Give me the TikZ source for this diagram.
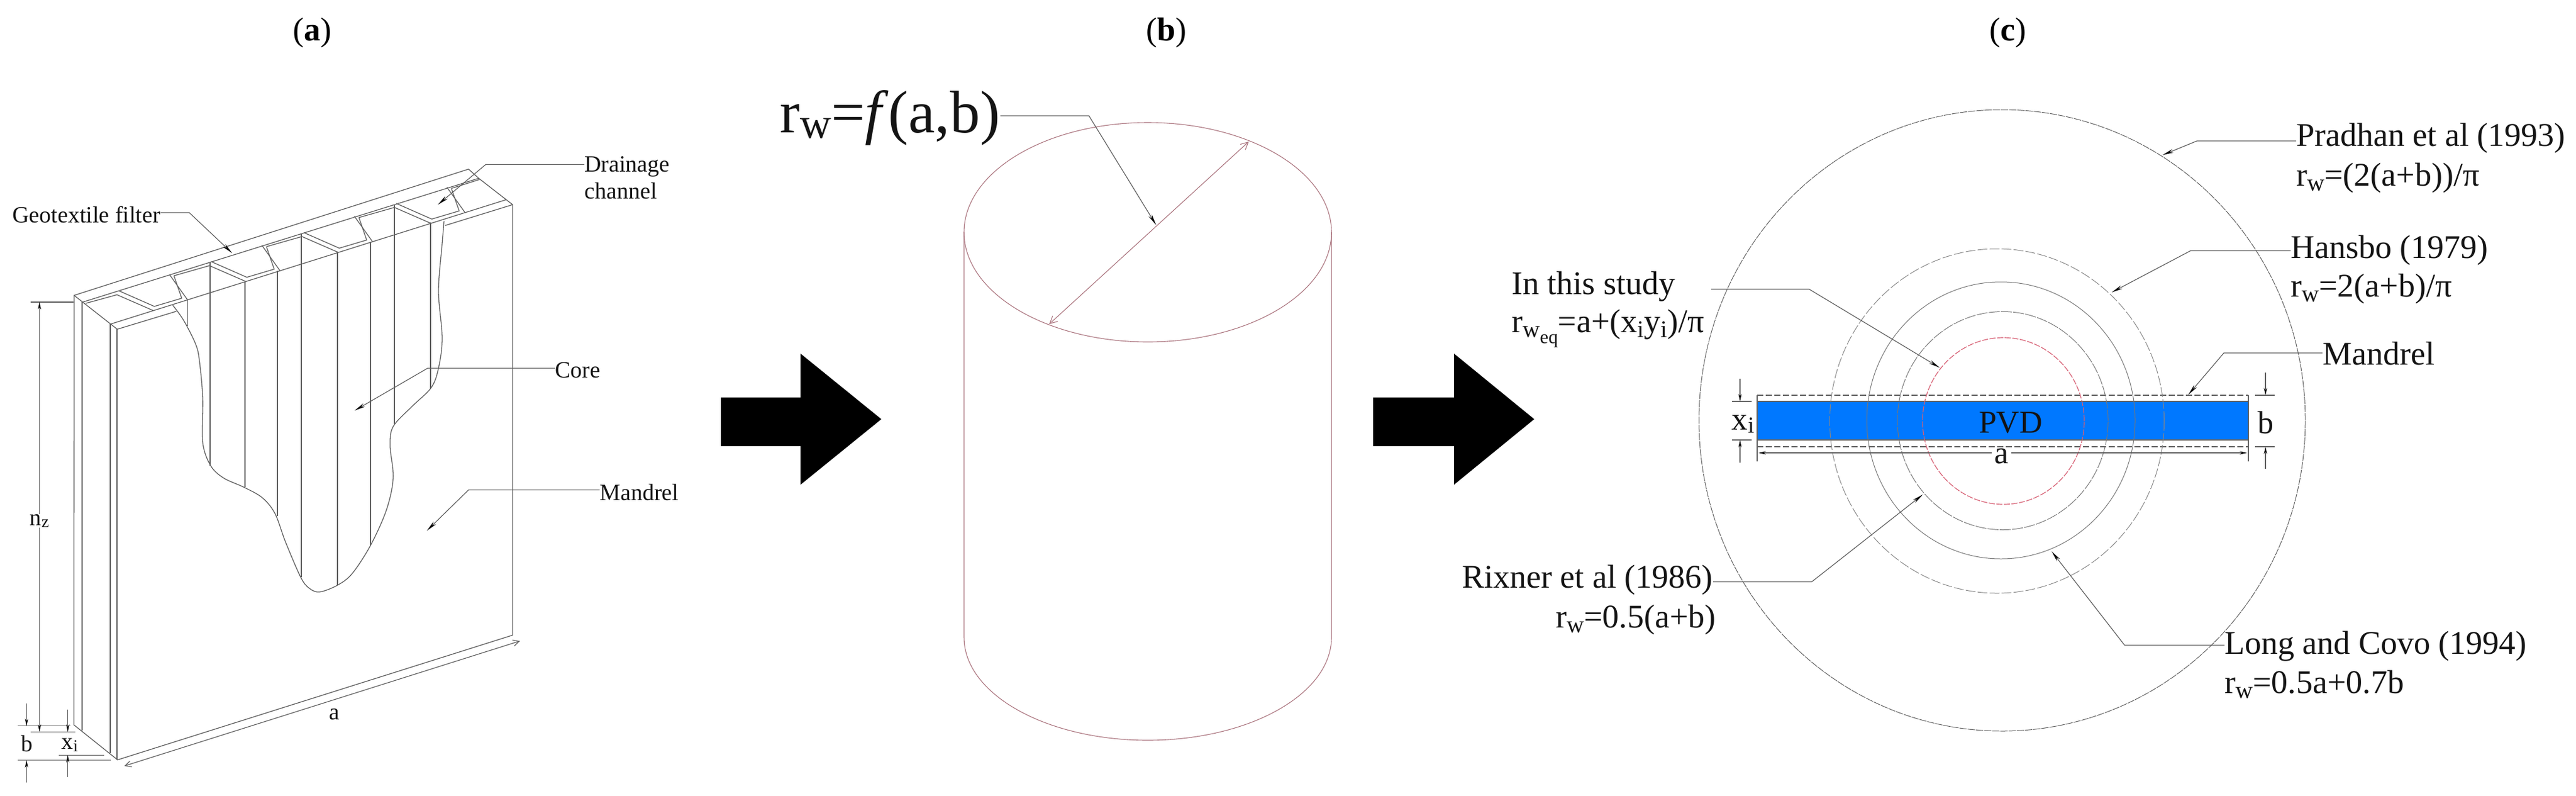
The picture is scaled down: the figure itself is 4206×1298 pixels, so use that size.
\documentclass[tikz,border=0pt]{standalone}
\usepackage{fontspec}
\usepackage{graphicx}
\setmainfont{Liberation Serif}
\usetikzlibrary{arrows.meta}
\definecolor{inkc}{RGB}{20,20,20}
\definecolor{linec}{RGB}{95,95,95}
\definecolor{cylc}{RGB}{170,115,125}
\definecolor{pvdc}{RGB}{0,120,255}
\definecolor{redc}{RGB}{215,95,115}
\newcommand{\sbl}[1]{\raisebox{-0.1em}{\scalebox{0.72}{#1}}}
\newcommand{\sbd}[1]{\raisebox{-0.15em}{\scalebox{0.72}{#1}}}
\tikzset{
  lbl/.style={inner sep=0pt,text=inkc,font=\fontsize{19}{22}\selectfont},
  lblc/.style={inner sep=0pt,text=inkc,font=\fontsize{27}{30}\selectfont},
  lblf/.style={inner sep=0pt,text=inkc,font=\fontsize{26}{30}\selectfont},
  part/.style={inner sep=0pt,text=black,font=\fontsize{27}{30}\selectfont},
  edge/.style={draw=linec,line width=0.65pt,line join=miter},
  leader/.style={draw=linec,line width=0.6pt,-{Stealth[length=9pt,width=3pt,black]}},
  dimtick/.style={draw=linec,line width=0.6pt},
  dimarr/.style={draw=linec,line width=0.6pt,-{Stealth[length=6pt,width=2.6pt,black]}},
  openarr/.style={draw=linec,line width=0.6pt,{Straight Barb[length=5pt,width=5pt]}-{Straight Barb[length=5pt,width=5pt]}},
  cyl/.style={draw=cylc,line width=0.55pt},
  bigarrow/.style={fill=black,draw=none}
}
\begin{document}
\begin{tikzpicture}[x=0.5pt,y=-0.5pt]
\path[use as bounding box,fill=white] (0,0) rectangle (4206,1298);

% --- part labels
\node[part] (pa) at (510,54) {(\textbf{a})};
\node[part] (pb) at (1904,54) {(\textbf{b})};
\node[part] (pc) at (3278,54) {(\textbf{c})};

% --- panel (a): block outline
\draw[edge] (121,482) -- (765,276) -- (781.7,291) -- (837,334) -- (837,1036.5) -- (192,1240) -- (120.7,1183) -- cycle;
\draw[edge] (135,493) -- (781.7,291);
\draw[edge] (121,482) -- (192,537.7);
\draw[edge] (180,529) -- (826,326);
\draw[edge] (190,537.7) -- (288,508);
\draw[edge] (726.7,368) -- (837,334);
\draw[edge] (134,493) -- (134,1192);
\draw[edge] (180,529) -- (180,1229);
\draw[edge] (191,537.7) -- (191,1240);

% corrugated core, top edge
\draw[edge] (140,495) -- (191,481) -- (250,506.7) (306.7,490) -- (276.7,448);
\foreach \k in {0,1,2,3}{
  \pgfmathsetmacro{\dx}{151*\k}
  \pgfmathsetmacro{\dy}{-47.5*\k}
  \begin{scope}[shift={(\dx,\dy)}]
    \draw[edge] (194,474.5) -- (252,500) -- (296.7,486.7) -- (284,450);
  \end{scope}
}
\foreach \k in {0,1,2}{
  \pgfmathsetmacro{\dx}{151*\k}
  \pgfmathsetmacro{\dy}{-47.5*\k}
  \begin{scope}[shift={(\dx,\dy)}]
    \draw[edge] (284,450) -- (342,433.5) -- (401,459.2) (457.7,442.5) -- (427.7,400.5);
  \end{scope}
}
\draw[edge] (737,307.5) -- (782.7,293);

% core vertical lines
\draw[edge] (306.7,490) -- (306.7,532);
\draw[edge] (343,428) -- (343,760);
\draw[edge] (400,460) -- (400,795);
\draw[edge] (453,442) -- (453,842);
\draw[edge] (492,382) -- (492,942);
\draw[edge] (551,412) -- (551,955);
\draw[edge] (605,396) -- (605,890);
\draw[edge] (644,335) -- (644,692);
\draw[edge] (703,363) -- (703,634);

% cut-away outline
\draw[edge] plot[smooth,tension=0.55] coordinates {(282,498) (300,523) (320,563) (326,592) (331,650) (331,722) (344,760) (365,780) (398,795) (428,812) (449,838) (466,884) (491,942) (505,960) (522,966) (551,955) (575,936) (605,890) (631,832) (642,780) (637,728) (642,696) (673,663) (703,634) (715,605) (722,553) (716,475) (722,397) (725,361)};

% labels and leaders, panel (a)
\node[lbl,anchor=west] (geo) at (20,350) {Geotextile filter};
\coordinate (bgeo) at (309,347); \coordinate (tgeo) at (379,413);
\draw[leader] (geo.east |- bgeo) -- (bgeo) -- (tgeo);

\node[lbl,anchor=west,align=left] (drain) at (954,290) {Drainage\\channel};
\coordinate (bdrain) at (793,268.5); \coordinate (tdrain) at (715,334);
\draw[leader] (drain.west |- bdrain) -- (bdrain) -- (tdrain);

\node[lbl,anchor=west] (core) at (906,604) {Core};
\coordinate (bcore) at (698,601); \coordinate (tcore) at (579,670);
\draw[leader] (core.west |- bcore) -- (bcore) -- (tcore);

\node[lbl,anchor=west] (man1) at (979,803) {Mandrel};
\coordinate (bman1) at (765,799.5); \coordinate (tman1) at (697,866);
\draw[leader] (man1.west |- bman1) -- (bman1) -- (tman1);

% dimensions, panel (a)
\coordinate (nzt) at (64.5,493); \coordinate (nzb) at (64.5,1194);
\node[lbl] (nz) at (64.5,850) {n\sbl{z}};
\draw[dimtick] (50,493) -- (120,493);
\draw[dimtick] (29,1184.7) -- (115,1184.7);
\draw[dimtick] (50,1194.3) -- (123,1194.3);
\draw[dimtick] (96,1232.3) -- (170,1232.3);
\draw[dimtick] (29,1240.7) -- (181,1240.7);
\draw[dimarr] (nz.north) -- (nzt);
\draw[dimarr] (nz.south) -- (nzb);
\node[lbl] (bl) at (44,1213) {b};
\coordinate (bt0) at (43.3,1148); \coordinate (bt1) at (43.3,1184.7);
\coordinate (bb0) at (43.3,1277); \coordinate (bb1) at (43.3,1240.7);
\draw[dimarr] (bt0) -- (bt1);
\draw[dimarr] (bb0) -- (bb1);
\node[lbl] (xl) at (114,1216) {x\sbl{i}};
\coordinate (xt0) at (110.7,1158); \coordinate (xt1) at (110.7,1194.3);
\coordinate (xb0) at (110.7,1268); \coordinate (xb1) at (110.7,1232.3);
\draw[dimarr] (xt0) -- (xt1);
\draw[dimarr] (xb0) -- (xb1);
\coordinate (a0) at (203,1250); \coordinate (a1) at (849,1046);
\draw[openarr] (a0) -- (a1);
\node[lbl] (al) at (546,1166) {a};

% --- big arrows
\fill[bigarrow] (1177,648.5) -- (1307,648.5) -- (1307,577) -- (1439,684) -- (1307,791) -- (1307,728) -- (1177,728) -- cycle;
\fill[bigarrow] (2242,648.5) -- (2374,648.5) -- (2374,577) -- (2505,684) -- (2374,791) -- (2374,728) -- (2242,728) -- cycle;

% --- panel (b): cylinder
\draw[cyl] (1874,379) ellipse [x radius=150pt,y radius=89.5pt];
\draw[cyl] (1574,379) -- (1574,1040) arc [start angle=180,end angle=360,x radius=150pt,y radius=84pt] -- (2174,379);
\coordinate (d0) at (1713,529); \coordinate (d1) at (2039,231);
\draw[cyl,{Straight Barb[length=6pt,width=6pt]}-{Straight Barb[length=6pt,width=6pt]}] (d0) -- (d1);
\node[inner sep=0pt,text=inkc,font=\fontsize{49}{52}\selectfont,anchor=west] (rwf) at (1273,192) {r\sbl{w}=\textit{f}(a,b)};
\coordinate (brwf) at (1778,189); \coordinate (trwf) at (1887.5,367);
\draw[leader] (rwf.east |- brwf) -- (brwf) -- (trwf);

% --- panel (c)
\fill[pvdc] (2869,655) rectangle (3671,718);
\draw[edge] (2869,655) -- (3671,655);
\draw[edge] (2869,718) -- (3671,718);
\draw[draw=linec,line width=0.8pt,dash pattern=on 5pt off 2pt] (2869,645) -- (3671,645);
\draw[draw=linec,line width=0.8pt,dash pattern=on 5pt off 2pt] (2869,729) -- (3671,729);
\draw[dimtick] (2869,645) -- (2869,753);
\draw[dimtick] (3671,645) -- (3671,753);

\draw[draw=linec,line width=0.5pt,dash pattern=on 6pt off 0.7pt] (3269,686) ellipse [x radius=247.5pt,y radius=253.5pt];
\draw[draw=linec!75,line width=0.5pt,dash pattern=on 8pt off 1.8pt] (3260.5,687) ellipse [x radius=136.5pt,y radius=140.5pt];
\draw[draw=linec!85,line width=0.5pt] (3267,686) ellipse [x radius=109.5pt,y radius=113pt];
\draw[draw=linec!85,line width=0.5pt,dash pattern=on 9pt off 1pt] (3270,686.5) ellipse [x radius=86pt,y radius=89pt];
\draw[draw=redc,line width=0.6pt,dash pattern=on 5pt off 1.2pt] (3271,687) ellipse [x radius=66pt,y radius=68pt];

\node[lblf] (pvd) at (3283,690) {PVD};
\node[lblf,fill=white,inner xsep=2pt] (ac) at (3268,745) {a};
\draw[dimarr] (ac.west |- 0,739) -- (2871,739);
\draw[dimarr] (ac.east |- 0,739) -- (3669,739);

\node[lblf] (xc) at (2846,692) {x\sbl{i}};
\coordinate (xc0) at (2841,618); \coordinate (xc1) at (2841,655);
\coordinate (xc2) at (2841,755); \coordinate (xc3) at (2841,718);
\draw[dimtick] (2828,655) -- (2860,655);
\draw[dimtick] (2828,718) -- (2860,718);
\draw[dimarr] (xc0) -- (xc1);
\draw[dimarr] (xc2) -- (xc3);

\node[lblf] (bc) at (3699,690) {b};
\coordinate (bc0) at (3699,608); \coordinate (bc1) at (3699,645);
\coordinate (bc2) at (3699,765); \coordinate (bc3) at (3699,729);
\draw[dimtick] (3682,645) -- (3714,645);
\draw[dimtick] (3682,729) -- (3714,729);
\draw[dimarr] (bc0) -- (bc1);
\draw[dimarr] (bc2) -- (bc3);

\node[lblc,anchor=west] (pra) at (3749,226) {Pradhan et al (1993)};
\node[lblc,anchor=west] (praf) at (3749,290) {r\sbd{w}=(2(a+b))/π};
\coordinate (bpra) at (3587,230); \coordinate (tpra) at (3531,253);
\draw[leader] (pra.west |- bpra) -- (bpra) -- (tpra);

\node[lblc,anchor=west] (han) at (3740,408) {Hansbo (1979)};
\node[lblc,anchor=west] (hanf) at (3740,471) {r\sbd{w}=2(a+b)/π};
\coordinate (bhan) at (3577,409); \coordinate (than) at (3448,477);
\draw[leader] (han.west |- bhan) -- (bhan) -- (than);

\node[lblc,anchor=west] (man2) at (3792,577) {Mandrel};
\coordinate (bman2) at (3631,576); \coordinate (tman2) at (3573,644);
\draw[leader] (man2.west |- bman2) -- (bman2) -- (tman2);

\node[lblc,anchor=west] (stu) at (2468,468) {In this study};
\node[lblc,anchor=west] (stuf) at (2468,536) {r\sbd{w\raisebox{-0.25em}{\scalebox{0.8}{eq}}}=a+(x\sbd{i}y\sbd{i})/π};
\coordinate (sstu) at (2794,472); \coordinate (bstu) at (2954,472); \coordinate (tstu) at (3167,600);
\draw[leader] (sstu) -- (bstu) -- (tstu);

\node[lblc,anchor=east] (rix) at (2797,946) {Rixner et al (1986)};
\node[lblc,anchor=east] (rixf) at (2802,1011) {r\sbd{w}=0.5(a+b)};
\coordinate (brix) at (2958,949.5); \coordinate (trix) at (3139.5,807);
\draw[leader] (rix.east |- brix) -- (brix) -- (trix);

\node[lblc,anchor=west] (lon) at (3632,1055) {Long and Covo (1994)};
\node[lblc,anchor=west] (lonf) at (3632,1117) {r\sbd{w}=0.5a+0.7b};
\coordinate (blon) at (3469,1053); \coordinate (tlon) at (3350,900);
\draw[leader] (lon.west |- blon) -- (blon) -- (tlon);
\end{tikzpicture}
\end{document}
